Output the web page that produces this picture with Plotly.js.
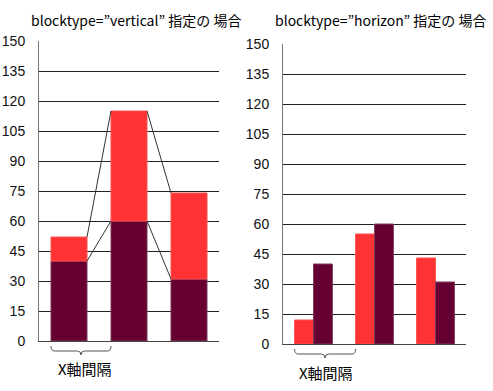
<!DOCTYPE html>
<html>
<head>
<meta charset="utf-8">
<script src="https://cdn.plot.ly/plotly-3.0.1.min.js"></script>
<style>html,body{margin:0;padding:0;background:#fff;}#chart{width:493px;height:391px;}</style>
</head>
<body>
<div id="chart"></div>
<script>
// ---- data ----
const positions = [0, 1, 2];
const seriesRed = [12, 55, 43];
const seriesDark = [40, 60, 31];
const yTickVals = [0, 15, 30, 45, 60, 75, 90, 105, 120, 135, 150];
const gridVals = [15, 30, 45, 60, 75, 90, 105, 120, 135];
const titleLeft = 'blocktype=\u201dvertical\u201d 指定の 場合';
const titleRight = 'blocktype=\u201dhorizon\u201d 指定の 場合';
const intervalLabel = 'X軸間隔';

// ---- styles ----
const RED = '#ff3333', DARK = '#660033';
const stackW = 0.6, groupW = 0.31;
const W = 493, H = 391;

const totals = seriesDark.map((d, i) => d + seriesRed[i]);
const traces = [];
traces.push({type: 'bar', x: positions, y: seriesDark, width: stackW, xaxis: 'x', yaxis: 'y',
  marker: {color: DARK, line: {color: '#7a3a5a', width: 1}}, hoverinfo: 'none'});
traces.push({type: 'bar', x: positions, y: seriesRed, base: seriesDark, width: stackW, xaxis: 'x', yaxis: 'y',
  marker: {color: RED, line: {color: '#ff5050', width: 1}}, hoverinfo: 'none'});
// connector lines between stacks
[totals, seriesDark].forEach(arr => {
  for (let i = 0; i < positions.length - 1; i++) {
    traces.push({type: 'scatter', mode: 'lines', xaxis: 'x', yaxis: 'y',
      x: [positions[i] + stackW / 2, positions[i + 1] - stackW / 2],
      y: [arr[i], arr[i + 1]], line: {color: '#333', width: 1}, hoverinfo: 'none'});
  }
});
traces.push({type: 'bar', x: positions, y: seriesRed, width: groupW, offset: -groupW, xaxis: 'x2', yaxis: 'y2',
  marker: {color: RED, line: {color: '#ff5050', width: 1}}, hoverinfo: 'none'});
traces.push({type: 'bar', x: positions, y: seriesDark, width: groupW, offset: 0, xaxis: 'x2', yaxis: 'y2',
  marker: {color: DARK, line: {color: '#7a3a5a', width: 1}}, hoverinfo: 'none'});

const px = v => v / W, py = v => (H - v) / H;
const tickFont = {family: 'Liberation Sans, Arial, sans-serif', size: 14, color: '#111'};
function yMain(domain, anchor) {
  return {domain: domain, anchor: anchor, range: [0, 150], tickvals: yTickVals, ticktext: yTickVals.map(String),
    showgrid: false, zeroline: false, showline: true, linecolor: '#777', linewidth: 1,
    ticks: '', ticklabelstandoff: 10, tickfont: tickFont, fixedrange: true};
}
function yGrid(overlay) {
  return {overlaying: overlay, range: [0, 150], tickvals: gridVals, showticklabels: false, showgrid: true,
    gridcolor: '#222', gridwidth: 1, zeroline: false, showline: false, ticks: '', fixedrange: true};
}
function xAx(domain, anchor) {
  return {domain: domain, anchor: anchor, range: [-0.5, 2.5], showticklabels: false, showgrid: false,
    zeroline: false, showline: true, linecolor: '#444', linewidth: 1, ticks: '', fixedrange: true};
}

function brace(xref, x0, x1, yTip, yMid, yPt) {
  const r = 0.06, xc = (x0 + x1) / 2;
  return {type: 'path', xref: xref, yref: 'paper', line: {color: '#555', width: 1},
    path: `M ${x0},${yTip} Q ${x0},${yMid} ${x0 + r},${yMid} L ${xc - r},${yMid} Q ${xc},${yMid} ${xc},${yPt} ` +
          `Q ${xc},${yMid} ${xc + r},${yMid} L ${x1 - r},${yMid} Q ${x1},${yMid} ${x1},${yTip}`};
}
function label(text, x, y, size) {
  return {text: text, xref: 'paper', yref: 'paper', x: px(x), y: py(y), xanchor: 'center', yanchor: 'middle',
    showarrow: false, font: {family: 'Noto Sans CJK JP', size: size, color: '#000'}};
}

const layout = {
  width: W, height: H, margin: {l: 0, r: 0, t: 0, b: 0}, showlegend: false,
  paper_bgcolor: '#fff', plot_bgcolor: '#fff', barmode: 'overlay',
  xaxis: xAx([px(39), px(219)], 'y'),
  yaxis: yMain([py(341), py(41)], 'x'),
  yaxis3: yGrid('y'),
  xaxis2: xAx([px(283), px(466)], 'y2'),
  yaxis2: yMain([py(344), py(44)], 'x2'),
  yaxis4: yGrid('y2'),
  shapes: [
    brace('x', positions[0] - stackW / 2, positions[1] - stackW / 2, py(346), py(351), py(355)),
    brace('x2', positions[0] - groupW, positions[1] - groupW, py(349), py(354), py(358))
  ],
  annotations: [
    label(titleLeft, 136, 20, 14),
    label(titleRight, 380, 20, 14),
    label(intervalLabel, 85, 368, 15),
    label(intervalLabel, 326, 372, 15)
  ]
};
// gridline overlay axes need a trace to be drawn
traces.push({type: 'scatter', x: [], y: [], xaxis: 'x', yaxis: 'y3', hoverinfo: 'none'});
traces.push({type: 'scatter', x: [], y: [], xaxis: 'x2', yaxis: 'y4', hoverinfo: 'none'});

Plotly.newPlot('chart', traces, layout, {displayModeBar: false, staticPlot: true});
</script>
</body>
</html>
